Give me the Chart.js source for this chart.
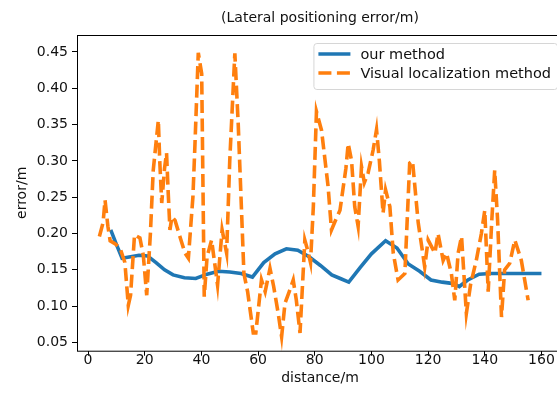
<!DOCTYPE html>
<html>
<head>
<meta charset="utf-8">
<script src="https://cdn.jsdelivr.net/npm/chart.js@4.4.0/dist/chart.umd.min.js"></script>
<style>
    html, body { margin: 0; padding: 0; overflow: hidden; background: #fff; }
    #wrap { position: relative; width: 576px; height: 397px; }
</style>
</head>
<body>
<div id="wrap"><canvas id="myChart"></canvas></div>

<script>
    // values
    const ourDist = [8, 10, 12, 15, 18, 21, 24, 27, 30, 34, 38, 42, 46, 50, 54, 58, 62, 66, 70, 74,
        78, 82, 86, 89, 92, 96, 100, 105, 109, 113, 117, 121, 125, 129, 131, 134, 138, 142, 150, 160];
    const ourErr = [0.205, 0.185, 0.166, 0.168, 0.170, 0.169, 0.160, 0.150, 0.143, 0.139, 0.138, 0.144,
        0.148, 0.147, 0.145, 0.140, 0.160, 0.172, 0.179, 0.177, 0.168, 0.156, 0.143, 0.138, 0.133,
        0.153, 0.172, 0.190, 0.180, 0.158, 0.148, 0.136, 0.133, 0.131, 0.127, 0.136, 0.144, 0.145,
        0.145, 0.145];

    const visualDist = [4.0, 5.3, 6.0, 7.0, 7.8, 9.5, 11.3, 13.0, 14.2, 15.0, 16.4, 18.3, 19.5, 20.7,
        22.0, 23.0, 24.8, 25.3, 26.0, 27.0, 27.7, 28.3, 28.9, 29.6, 30.7, 32.4, 34.2, 35.4, 37.0,
        37.7, 38.9, 40.1, 41.0, 42.0, 43.6, 45.7, 47.3, 48.9, 50.0, 51.8, 53.0, 55.0, 56.3, 58.3,
        59.2, 61.2, 62.5, 64.2, 65.5, 67.1, 68.3, 69.5, 71.0, 72.4, 73.5, 74.8, 76.5, 77.5, 78.5,
        79.5, 80.6, 82.4, 84.7, 85.9, 87.3, 88.9, 91.0, 91.8, 93.0, 94.1, 95.3, 96.5, 97.5, 98.8,
        100.6, 101.8, 102.8, 104.1, 105.0, 106.5, 107.7, 109.4, 111.8, 113.5, 114.5, 116.5, 118.8,
        120.0, 122.4, 123.5, 125.3, 126.5, 128.2, 129.4, 130.6, 131.8, 133.5, 135.0, 137.0, 138.8,
        140.0, 141.2, 142.5, 143.5, 144.5, 145.9, 147.0, 148.8, 150.6, 152.9, 155.3];
    const visualErr = [0.196, 0.215, 0.246, 0.210, 0.190, 0.186, 0.180, 0.160, 0.101, 0.115, 0.198,
        0.194, 0.170, 0.115, 0.200, 0.287, 0.356, 0.300, 0.242, 0.290, 0.311, 0.255, 0.205, 0.223,
        0.218, 0.196, 0.173, 0.166, 0.250, 0.320, 0.449, 0.420, 0.113, 0.168, 0.191, 0.129, 0.205,
        0.173, 0.300, 0.448, 0.350, 0.145, 0.120, 0.063, 0.063, 0.136, 0.120, 0.152, 0.127, 0.090,
        0.058, 0.104, 0.120, 0.136, 0.108, 0.063, 0.191, 0.177, 0.160, 0.237, 0.368, 0.342, 0.265,
        0.205, 0.218, 0.232, 0.290, 0.324, 0.300, 0.237, 0.210, 0.292, 0.270, 0.283, 0.315, 0.343,
        0.300, 0.228, 0.260, 0.237, 0.173, 0.136, 0.145, 0.297, 0.300, 0.215, 0.154, 0.191, 0.173,
        0.200, 0.163, 0.173, 0.145, 0.108, 0.173, 0.196, 0.090, 0.130, 0.163, 0.200, 0.232, 0.120,
        0.220, 0.287, 0.220, 0.085, 0.150, 0.159, 0.191, 0.163, 0.108];

    const xTicks = [0, 20, 40, 60, 80, 100, 120, 140, 160];
    const yTicks = [0.05, 0.10, 0.15, 0.20, 0.25, 0.30, 0.35, 0.40, 0.45];

    const seriesNames = ['our method', 'Visual localization method'];
    const BLUE = '#1f77b4';
    const ORANGE = '#ff7f0e';
    const FONT = 'DejaVu Sans';
    const DASH = [13, 5.5];

    const toPoints = (xs, ys) => xs.map((x, i) => ({ x: x, y: ys[i] }));

    // title, frame and the in-axes legend, matplotlib style
    const decorations = {
        id: 'decorations',
        afterDraw(chart) {
            const ctx = chart.ctx;
            const a = chart.chartArea;
            ctx.save();

            ctx.strokeStyle = '#000';
            ctx.lineWidth = 1;
            ctx.strokeRect(a.left + 0.5, a.top + 0.5, a.right - a.left, a.bottom - a.top);

            ctx.fillStyle = '#111';
            ctx.font = '14px "' + FONT + '"';
            ctx.textAlign = 'center';
            ctx.textBaseline = 'middle';
            ctx.fillText('(Lateral positioning error/m)', (a.left + a.right) / 2, 18);

            ctx.font = '14.5px "' + FONT + '"';
            const textW = Math.max(...seriesNames.map(s => ctx.measureText(s).width));
            const right = a.right - 6;
            const left = right - (5 + 32 + 10 + textW + 6);
            const top = a.top + 8;
            const h = 46;
            ctx.beginPath();
            ctx.roundRect(left + 0.5, top + 0.5, right - left, h, 3);
            ctx.fillStyle = 'rgba(255,255,255,0.8)';
            ctx.fill();
            ctx.strokeStyle = '#d6d6d6';
            ctx.stroke();

            const rows = [top + 11, top + 30];
            const colors = [BLUE, ORANGE];
            rows.forEach((y, i) => {
                ctx.beginPath();
                ctx.setLineDash(i === 1 ? DASH : []);
                ctx.strokeStyle = colors[i];
                ctx.lineWidth = 3.6;
                ctx.moveTo(left + 5, y);
                ctx.lineTo(left + 37, y);
                ctx.stroke();
                ctx.setLineDash([]);
                ctx.fillStyle = '#111';
                ctx.textAlign = 'left';
                ctx.fillText(seriesNames[i], left + 47, y + 1);
            });
            ctx.restore();
        }
    };

    const ctx = document.getElementById('myChart').getContext('2d');
    const myChart = new Chart(ctx, {
        type: 'line',
        data: {
            datasets: [
                {
                    label: seriesNames[0],
                    data: toPoints(ourDist, ourErr),
                    borderColor: BLUE,
                    borderWidth: 3.6,
                    pointRadius: 0,
                    tension: 0,
                    order: 1
                },
                {
                    label: seriesNames[1],
                    data: toPoints(visualDist, visualErr),
                    borderColor: ORANGE,
                    borderWidth: 3.6,
                    borderDash: DASH,
                    pointRadius: 0,
                    tension: 0,
                    order: 0
                }
            ]
        },
        options: {
            responsive: true,
            maintainAspectRatio: false,
            animation: false,
            layout: { padding: { top: 35, right: 13, left: 0, bottom: 0 } },
            plugins: {
                legend: { display: false },
                tooltip: { enabled: false }
            },
            scales: {
                x: {
                    type: 'linear',
                    min: -3.9,
                    max: 167.6,
                    afterBuildTicks: s => { s.ticks = xTicks.map(v => ({ value: v })); },
                    afterFit: s => { s.height = 46.3; },
                    grid: { drawOnChartArea: false, color: '#000', tickLength: 5 },
                    border: { display: false },
                    ticks: {
                        autoSkip: false,
                        maxRotation: 0,
                        padding: -4,
                        color: '#111',
                        font: { family: FONT, size: 14 }
                    },
                    title: {
                        display: true,
                        text: 'distance/m',
                        color: '#111',
                        font: { family: FONT, size: 14 },
                        padding: { top: 0, bottom: 10.5 }
                    }
                },
                y: {
                    min: 0.0386,
                    max: 0.4734,
                    afterBuildTicks: s => { s.ticks = yTicks.map(v => ({ value: v })); },
                    afterFit: s => { s.width = 77; },
                    grid: { drawOnChartArea: false, color: '#000', tickLength: 5 },
                    border: { display: false },
                    ticks: {
                        padding: 4,
                        color: '#111',
                        font: { family: FONT, size: 14 },
                        callback: v => v.toFixed(2)
                    },
                    title: {
                        display: true,
                        text: 'error/m',
                        color: '#111',
                        font: { family: FONT, size: 14 },
                        padding: { top: 13.5, bottom: 0 }
                    }
                }
            }
        },
        plugins: [decorations]
    });
</script>
</body>
</html>
